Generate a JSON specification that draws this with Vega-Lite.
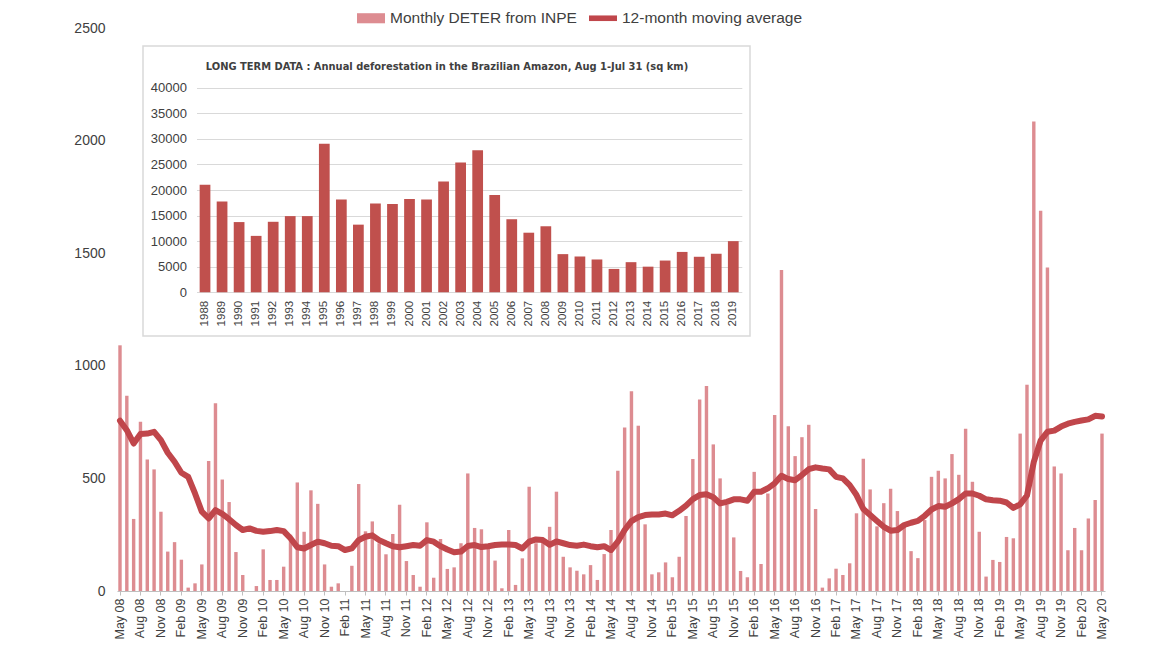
{
  "$schema": "https://vega.github.io/schema/vega-lite/v6.json",
  "width": 988,
  "height": 563,
  "autosize": {"type": "none"},
  "padding": {"left": 117, "top": 28, "right": 54, "bottom": 54},
  "background": "white",
  "config": {"view": {"stroke": null}, "font": "Liberation Sans"},
  "layer": [
    {
      "data": {"values": [
        {"m":"May 08","v":1091,"ma":756},{"m":"Jun 08","v":867,"ma":714},{"m":"Jul 08","v":320,"ma":655},{"m":"Aug 08","v":751,"ma":697},
        {"m":"Sep 08","v":584,"ma":699},{"m":"Oct 08","v":540,"ma":707},{"m":"Nov 08","v":352,"ma":670},{"m":"Dec 08","v":175,"ma":614},
        {"m":"Jan 09","v":217,"ma":574},{"m":"Feb 09","v":139,"ma":525},{"m":"Mar 09","v":15,"ma":507},{"m":"Apr 09","v":34,"ma":433},
        {"m":"May 09","v":118,"ma":352},{"m":"Jun 09","v":577,"ma":322},{"m":"Jul 09","v":834,"ma":359},{"m":"Aug 09","v":495,"ma":342},
        {"m":"Sep 09","v":395,"ma":319},{"m":"Oct 09","v":173,"ma":293},{"m":"Nov 09","v":71,"ma":271},{"m":"Dec 09","v":0,"ma":278},
        {"m":"Jan 10","v":22,"ma":267},{"m":"Feb 10","v":185,"ma":263},{"m":"Mar 10","v":49,"ma":266},{"m":"Apr 10","v":49,"ma":271},
        {"m":"May 10","v":108,"ma":266},{"m":"Jun 10","v":250,"ma":234},{"m":"Jul 10","v":482,"ma":194},{"m":"Aug 10","v":263,"ma":189},
        {"m":"Sep 10","v":447,"ma":204},{"m":"Oct 10","v":387,"ma":219},{"m":"Nov 10","v":118,"ma":212},{"m":"Dec 10","v":19,"ma":201},
        {"m":"Jan 11","v":34,"ma":199},{"m":"Feb 11","v":0,"ma":182},{"m":"Mar 11","v":112,"ma":189},{"m":"Apr 11","v":475,"ma":226},
        {"m":"May 11","v":265,"ma":241},{"m":"Jun 11","v":309,"ma":247},{"m":"Jul 11","v":212,"ma":226},{"m":"Aug 11","v":163,"ma":212},
        {"m":"Sep 11","v":253,"ma":199},{"m":"Oct 11","v":383,"ma":194},{"m":"Nov 11","v":133,"ma":199},{"m":"Dec 11","v":71,"ma":204},
        {"m":"Jan 12","v":19,"ma":201},{"m":"Feb 12","v":305,"ma":226},{"m":"Mar 12","v":59,"ma":219},{"m":"Apr 12","v":231,"ma":199},
        {"m":"May 12","v":98,"ma":184},{"m":"Jun 12","v":105,"ma":172},{"m":"Jul 12","v":212,"ma":175},{"m":"Aug 12","v":522,"ma":200},
        {"m":"Sep 12","v":280,"ma":204},{"m":"Oct 12","v":274,"ma":195},{"m":"Nov 12","v":190,"ma":199},{"m":"Dec 12","v":135,"ma":204},
        {"m":"Jan 13","v":12,"ma":206},{"m":"Feb 13","v":271,"ma":206},{"m":"Mar 13","v":27,"ma":204},{"m":"Apr 13","v":145,"ma":189},
        {"m":"May 13","v":463,"ma":219},{"m":"Jun 13","v":212,"ma":229},{"m":"Jul 13","v":230,"ma":226},{"m":"Aug 13","v":285,"ma":205},
        {"m":"Sep 13","v":441,"ma":220},{"m":"Oct 13","v":152,"ma":212},{"m":"Nov 13","v":105,"ma":204},{"m":"Dec 13","v":90,"ma":201},
        {"m":"Jan 14","v":74,"ma":206},{"m":"Feb 14","v":115,"ma":199},{"m":"Mar 14","v":49,"ma":194},{"m":"Apr 14","v":164,"ma":199},
        {"m":"May 14","v":271,"ma":182},{"m":"Jun 14","v":534,"ma":219},{"m":"Jul 14","v":726,"ma":271},{"m":"Aug 14","v":887,"ma":310},
        {"m":"Sep 14","v":734,"ma":328},{"m":"Oct 14","v":296,"ma":337},{"m":"Nov 14","v":74,"ma":340},{"m":"Dec 14","v":83,"ma":340},
        {"m":"Jan 15","v":127,"ma":344},{"m":"Feb 15","v":61,"ma":336},{"m":"Mar 15","v":152,"ma":356},{"m":"Apr 15","v":333,"ma":379},
        {"m":"May 15","v":586,"ma":408},{"m":"Jun 15","v":850,"ma":426},{"m":"Jul 15","v":910,"ma":430},{"m":"Aug 15","v":651,"ma":416},
        {"m":"Sep 15","v":500,"ma":389},{"m":"Oct 15","v":382,"ma":396},{"m":"Nov 15","v":238,"ma":407},{"m":"Dec 15","v":89,"ma":407},
        {"m":"Jan 16","v":61,"ma":401},{"m":"Feb 16","v":529,"ma":441},{"m":"Mar 16","v":120,"ma":441},{"m":"Apr 16","v":433,"ma":456},
        {"m":"May 16","v":781,"ma":478},{"m":"Jun 16","v":1425,"ma":512},{"m":"Jul 16","v":732,"ma":497},{"m":"Aug 16","v":599,"ma":492},
        {"m":"Sep 16","v":683,"ma":515},{"m":"Oct 16","v":738,"ma":541},{"m":"Nov 16","v":364,"ma":549},{"m":"Dec 16","v":15,"ma":544},
        {"m":"Jan 17","v":56,"ma":540},{"m":"Feb 17","v":99,"ma":507},{"m":"Mar 17","v":71,"ma":500},{"m":"Apr 17","v":123,"ma":470},
        {"m":"May 17","v":345,"ma":426},{"m":"Jun 17","v":587,"ma":364},{"m":"Jul 17","v":451,"ma":337},{"m":"Aug 17","v":287,"ma":311},
        {"m":"Sep 17","v":390,"ma":285},{"m":"Oct 17","v":454,"ma":268},{"m":"Nov 17","v":355,"ma":271},{"m":"Dec 17","v":285,"ma":293},
        {"m":"Jan 18","v":177,"ma":303},{"m":"Feb 18","v":146,"ma":311},{"m":"Mar 18","v":315,"ma":334},{"m":"Apr 18","v":507,"ma":362},
        {"m":"May 18","v":534,"ma":377},{"m":"Jun 18","v":500,"ma":374},{"m":"Jul 18","v":608,"ma":389},{"m":"Aug 18","v":516,"ma":408},
        {"m":"Sep 18","v":720,"ma":433},{"m":"Oct 18","v":485,"ma":433},{"m":"Nov 18","v":263,"ma":423},{"m":"Dec 18","v":64,"ma":407},
        {"m":"Jan 19","v":138,"ma":403},{"m":"Feb 19","v":129,"ma":401},{"m":"Mar 19","v":240,"ma":393},{"m":"Apr 19","v":234,"ma":369},
        {"m":"May 19","v":699,"ma":385},{"m":"Jun 19","v":916,"ma":424},{"m":"Jul 19","v":2085,"ma":573},{"m":"Aug 19","v":1689,"ma":668},
        {"m":"Sep 19","v":1437,"ma":707},{"m":"Oct 19","v":553,"ma":712},{"m":"Nov 19","v":522,"ma":730},{"m":"Dec 19","v":181,"ma":743},
        {"m":"Jan 20","v":280,"ma":751},{"m":"Feb 20","v":181,"ma":757},{"m":"Mar 20","v":322,"ma":762},{"m":"Apr 20","v":404,"ma":778},
        {"m":"May 20","v":699,"ma":775}
      ]},
      "encoding": {
        "x": {
          "field": "m", "type": "ordinal", "sort": null,
          "scale": {"paddingInner": 0.5, "paddingOuter": 0.19},
          "axis": {
            "title": null, "labelAngle": -90, "labelFontSize": 12.5, "labelColor": "#404040",
            "labelFont": "Liberation Sans", "labelPadding": 3, "tickSize": 4, "tickColor": "#bfbfbf",
            "domainColor": "#bfbfbf", "grid": false,
            "values": ["May 08","Aug 08","Nov 08","Feb 09","May 09","Aug 09","Nov 09","Feb 10","May 10","Aug 10","Nov 10","Feb 11","May 11","Aug 11","Nov 11","Feb 12","May 12","Aug 12","Nov 12","Feb 13","May 13","Aug 13","Nov 13","Feb 14","May 14","Aug 14","Nov 14","Feb 15","May 15","Aug 15","Nov 15","Feb 16","May 16","Aug 16","Nov 16","Feb 17","May 17","Aug 17","Nov 17","Feb 18","May 18","Aug 18","Nov 18","Feb 19","May 19","Aug 19","Nov 19","Feb 20","May 20"]
          }
        }
      },
      "layer": [
        {
          "mark": {"type": "bar"},
          "encoding": {
            "y": {
              "field": "v", "type": "quantitative",
              "scale": {"domain": [0, 2500], "nice": false},
              "axis": {"title": null, "grid": false, "domain": false, "ticks": false, "labelPadding": 12, "format": "d",
                       "values": [0, 500, 1000, 1500, 2000, 2500], "labelFontSize": 14, "labelColor": "#404040"}
            },
            "color": {
              "datum": "Monthly DETER from INPE",
              "scale": {"domain": ["Monthly DETER from INPE", "12-month moving average"], "range": ["#dd8c91", "#c0464b"]},
              "legend": {
                "orient": "none", "legendX": 240, "legendY": -24, "direction": "horizontal", "title": null,
                "labelFontSize": 15.5, "labelColor": "#404040", "labelFont": "Liberation Sans", "labelLimit": 0,
                "symbolSize": 784, "labelOffset": 5, "columnPadding": 12,
                "encode": {"symbols": {"update": {
                  "shape": {"signal": "datum.index === 0 ? 'M-1,-0.36H1V0.36H-1Z' : 'M-1,-0.2H1V0.2H-1Z'"},
                  "fill": {"signal": "datum.index === 0 ? '#dd8c91' : '#c0464b'"},
                  "stroke": {"value": "transparent"},
                  "strokeWidth": {"value": 0},
                  "opacity": {"value": 1}
                }}}
              }
            }
          }
        },
        {
          "mark": {"type": "line", "strokeWidth": 6, "strokeCap": "round", "strokeJoin": "round"},
          "encoding": {
            "y": {"field": "ma", "type": "quantitative"},
            "color": {"datum": "12-month moving average"}
          }
        }
      ]
    },
    {
      "data": {"values": [{}]},
      "mark": {"type": "rect", "fill": "transparent", "stroke": "#d9d9d9", "strokeWidth": 1.5},
      "encoding": {
        "x": {
          "datum": 0, "type": "quantitative",
          "scale": {"domain": [0, 1], "range": [26, 633], "nice": false, "zero": false},
          "axis": {
            "orient": "top", "offset": -43, "labels": false, "ticks": false, "domain": false, "grid": false,
            "title": "LONG TERM DATA : Annual deforestation in the Brazilian Amazon, Aug 1-Jul 31 (sq km)",
            "titleFont": "'DejaVu Sans Condensed', 'Liberation Sans'", "titleFontWeight": "bold", "titleFontSize": 11,
            "titleColor": "#404040", "titlePadding": 0
          }
        },
        "x2": {"datum": 1},
        "y": {
          "datum": 0, "type": "quantitative",
          "scale": {"domain": [0, 1], "range": [308, 18], "nice": false, "zero": false},
          "axis": null
        },
        "y2": {"datum": 1}
      }
    },
    {
      "data": {"values": [
        {"year":"1988","area":21050},{"year":"1989","area":17770},{"year":"1990","area":13730},{"year":"1991","area":11030},
        {"year":"1992","area":13786},{"year":"1993","area":14896},{"year":"1994","area":14896},{"year":"1995","area":29059},
        {"year":"1996","area":18161},{"year":"1997","area":13227},{"year":"1998","area":17383},{"year":"1999","area":17259},
        {"year":"2000","area":18226},{"year":"2001","area":18165},{"year":"2002","area":21651},{"year":"2003","area":25396},
        {"year":"2004","area":27772},{"year":"2005","area":19014},{"year":"2006","area":14286},{"year":"2007","area":11651},
        {"year":"2008","area":12911},{"year":"2009","area":7464},{"year":"2010","area":7000},{"year":"2011","area":6418},
        {"year":"2012","area":4571},{"year":"2013","area":5891},{"year":"2014","area":5012},{"year":"2015","area":6207},
        {"year":"2016","area":7893},{"year":"2017","area":6947},{"year":"2018","area":7536},{"year":"2019","area":10000}
      ]},
      "mark": {"type": "bar", "color": "#c0504d"},
      "encoding": {
        "x": {
          "field": "year", "type": "ordinal",
          "scale": {"range": [79.5, 624.8], "paddingInner": 0.37, "paddingOuter": 0.185},
          "axis": {"orient": "bottom", "offset": -298.7, "title": null, "labelAngle": -90, "labelFontSize": 11.5,
                   "labelColor": "#404040", "ticks": false, "domain": false, "labelPadding": 8, "grid": false}
        },
        "y": {
          "field": "area", "type": "quantitative",
          "scale": {"domain": [0, 40000], "range": [264.3, 59.7], "nice": false},
          "axis": {"orient": "left", "offset": -79.5, "title": null, "grid": true, "gridColor": "#d9d9d9", "format": "d",
                   "domain": false, "ticks": false, "labelPadding": 10, "labelFontSize": 13, "labelColor": "#404040",
                   "values": [0, 5000, 10000, 15000, 20000, 25000, 30000, 35000, 40000]}
        }
      }
    }
  ],
  "resolve": {"scale": {"x": "independent", "y": "independent"}, "axis": {"x": "independent", "y": "independent"}}
}
